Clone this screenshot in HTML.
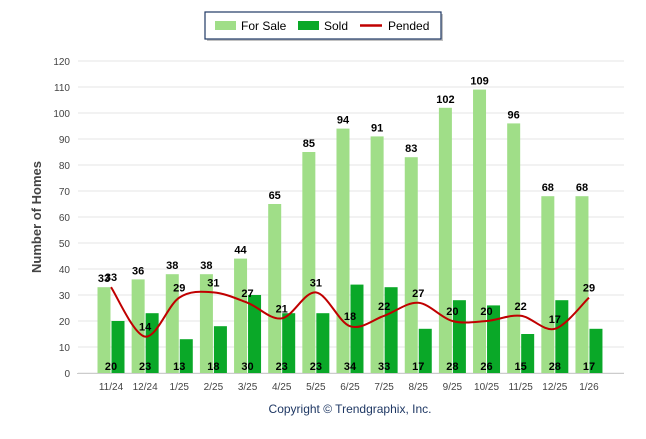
<!DOCTYPE html>
<html><head><meta charset="utf-8"><style>
body{margin:0;background:#fff;font-family:"Liberation Sans",sans-serif}
svg text{font-family:"Liberation Sans",sans-serif}
</style></head><body>
<svg id="c" width="646" height="434" xmlns="http://www.w3.org/2000/svg">
<g>
<rect x="207" y="14" width="236" height="27" fill="#666" opacity="0.4"/>
<rect x="205" y="12" width="236" height="27" fill="#fff" stroke="#1f3864" stroke-width="1.2"/>
<rect x="215" y="21" width="21" height="9" fill="#a0de88"/>
<text x="241" y="30" font-size="12" fill="#000">For Sale</text>
<rect x="298" y="21" width="21" height="9" fill="#0aa828"/>
<text x="324" y="30" font-size="12" fill="#000">Sold</text>
<line x1="360" y1="25.5" x2="382" y2="25.5" stroke="#c00000" stroke-width="2.5"/>
<text x="388" y="30" font-size="12" fill="#000">Pended</text>
</g>
<text transform="translate(41,217) rotate(-90)" text-anchor="middle" font-size="13" font-weight="bold" fill="#444">Number of Homes</text>
<text x="350" y="413" text-anchor="middle" font-size="12" fill="#1f3864">Copyright © Trendgraphix, Inc.</text>
<g id="g"></g>
</svg>
<script>
const categories=["11/24","12/24","1/25","2/25","3/25","4/25","5/25","6/25","7/25","8/25","9/25","10/25","11/25","12/25","1/26"];
const forSale=[33,36,38,38,44,65,85,94,91,83,102,109,96,68,68];
const sold=[20,23,13,18,30,23,23,34,33,17,28,26,15,28,17];
const pended=[33,14,29,31,27,21,31,18,22,27,20,20,22,17,29];
const yTicks=[0,10,20,30,40,50,60,70,80,90,100,110,120];
const NS="http://www.w3.org/2000/svg";
const g=document.getElementById('g');
const y=v=>373-v*2.6;
const x=i=>111+i*34.14;
function el(t,a,txt){const e=document.createElementNS(NS,t);for(const k in a)e.setAttribute(k,a[k]);if(txt!==undefined)e.textContent=txt;g.appendChild(e);return e;}
yTicks.forEach(v=>{
 const l=el('line',{x1:78,x2:624,y1:y(v),y2:y(v),stroke:'#e6e6e6','stroke-width':1});
 
 
 const t=el('text',{x:70,y:y(v)+4,'text-anchor':'end','font-size':10,fill:'#444'},v);
 
 
});
el('line',{x1:77,x2:624,y1:373.5,y2:373.5,stroke:'#ccc'});
categories.forEach((c,i)=>{
 const cx=x(i);
 const b1=el('rect',{x:cx-13.5,y:y(forSale[i]),width:13,height:forSale[i]*2.6,fill:'#a0de88'});
 
 
 const b2=el('rect',{x:cx+0.5,y:y(sold[i]),width:13,height:sold[i]*2.6,fill:'#0aa828'});
 
 
 const t=el('text',{x:cx,y:390,'text-anchor':'middle','font-size':10,fill:'#444'},c);
 
 
});
let d='';
const P=pended.map((v,i)=>[x(i),y(v)]);
P.forEach((p,i)=>{
 if(i===0){d+='M'+p[0]+','+p[1];return;}
 const p0=P[i-2]||P[i-1],p1=P[i-1],p3=P[i+1]||p;
 const k=1/6;
 d+=' C'+(p1[0]+(p[0]-p0[0])*k)+','+(p1[1]+(p[1]-p0[1])*k)+' '+(p[0]-(p3[0]-p1[0])*k)+','+(p[1]-(p3[1]-p1[1])*k)+' '+p[0]+','+p[1];
});
const ln=el('path',{d:d,fill:'none',stroke:'#c00000','stroke-width':2});


categories.forEach((c,i)=>{
 const cx=x(i);
 const a=el('text',{x:cx-7,y:y(forSale[i])-5,'text-anchor':'middle','font-size':11,'font-weight':'bold',fill:'#000'},forSale[i]);
 
 
 const b=el('text',{x:cx,y:370,'text-anchor':'middle','font-size':11,'font-weight':'bold',fill:'#000'},sold[i]);
 
 
 const p=el('text',{x:cx,y:y(pended[i])-6,'text-anchor':'middle','font-size':11,'font-weight':'bold',fill:'#000'},pended[i]);
 
 
});
</script>
</body></html>
